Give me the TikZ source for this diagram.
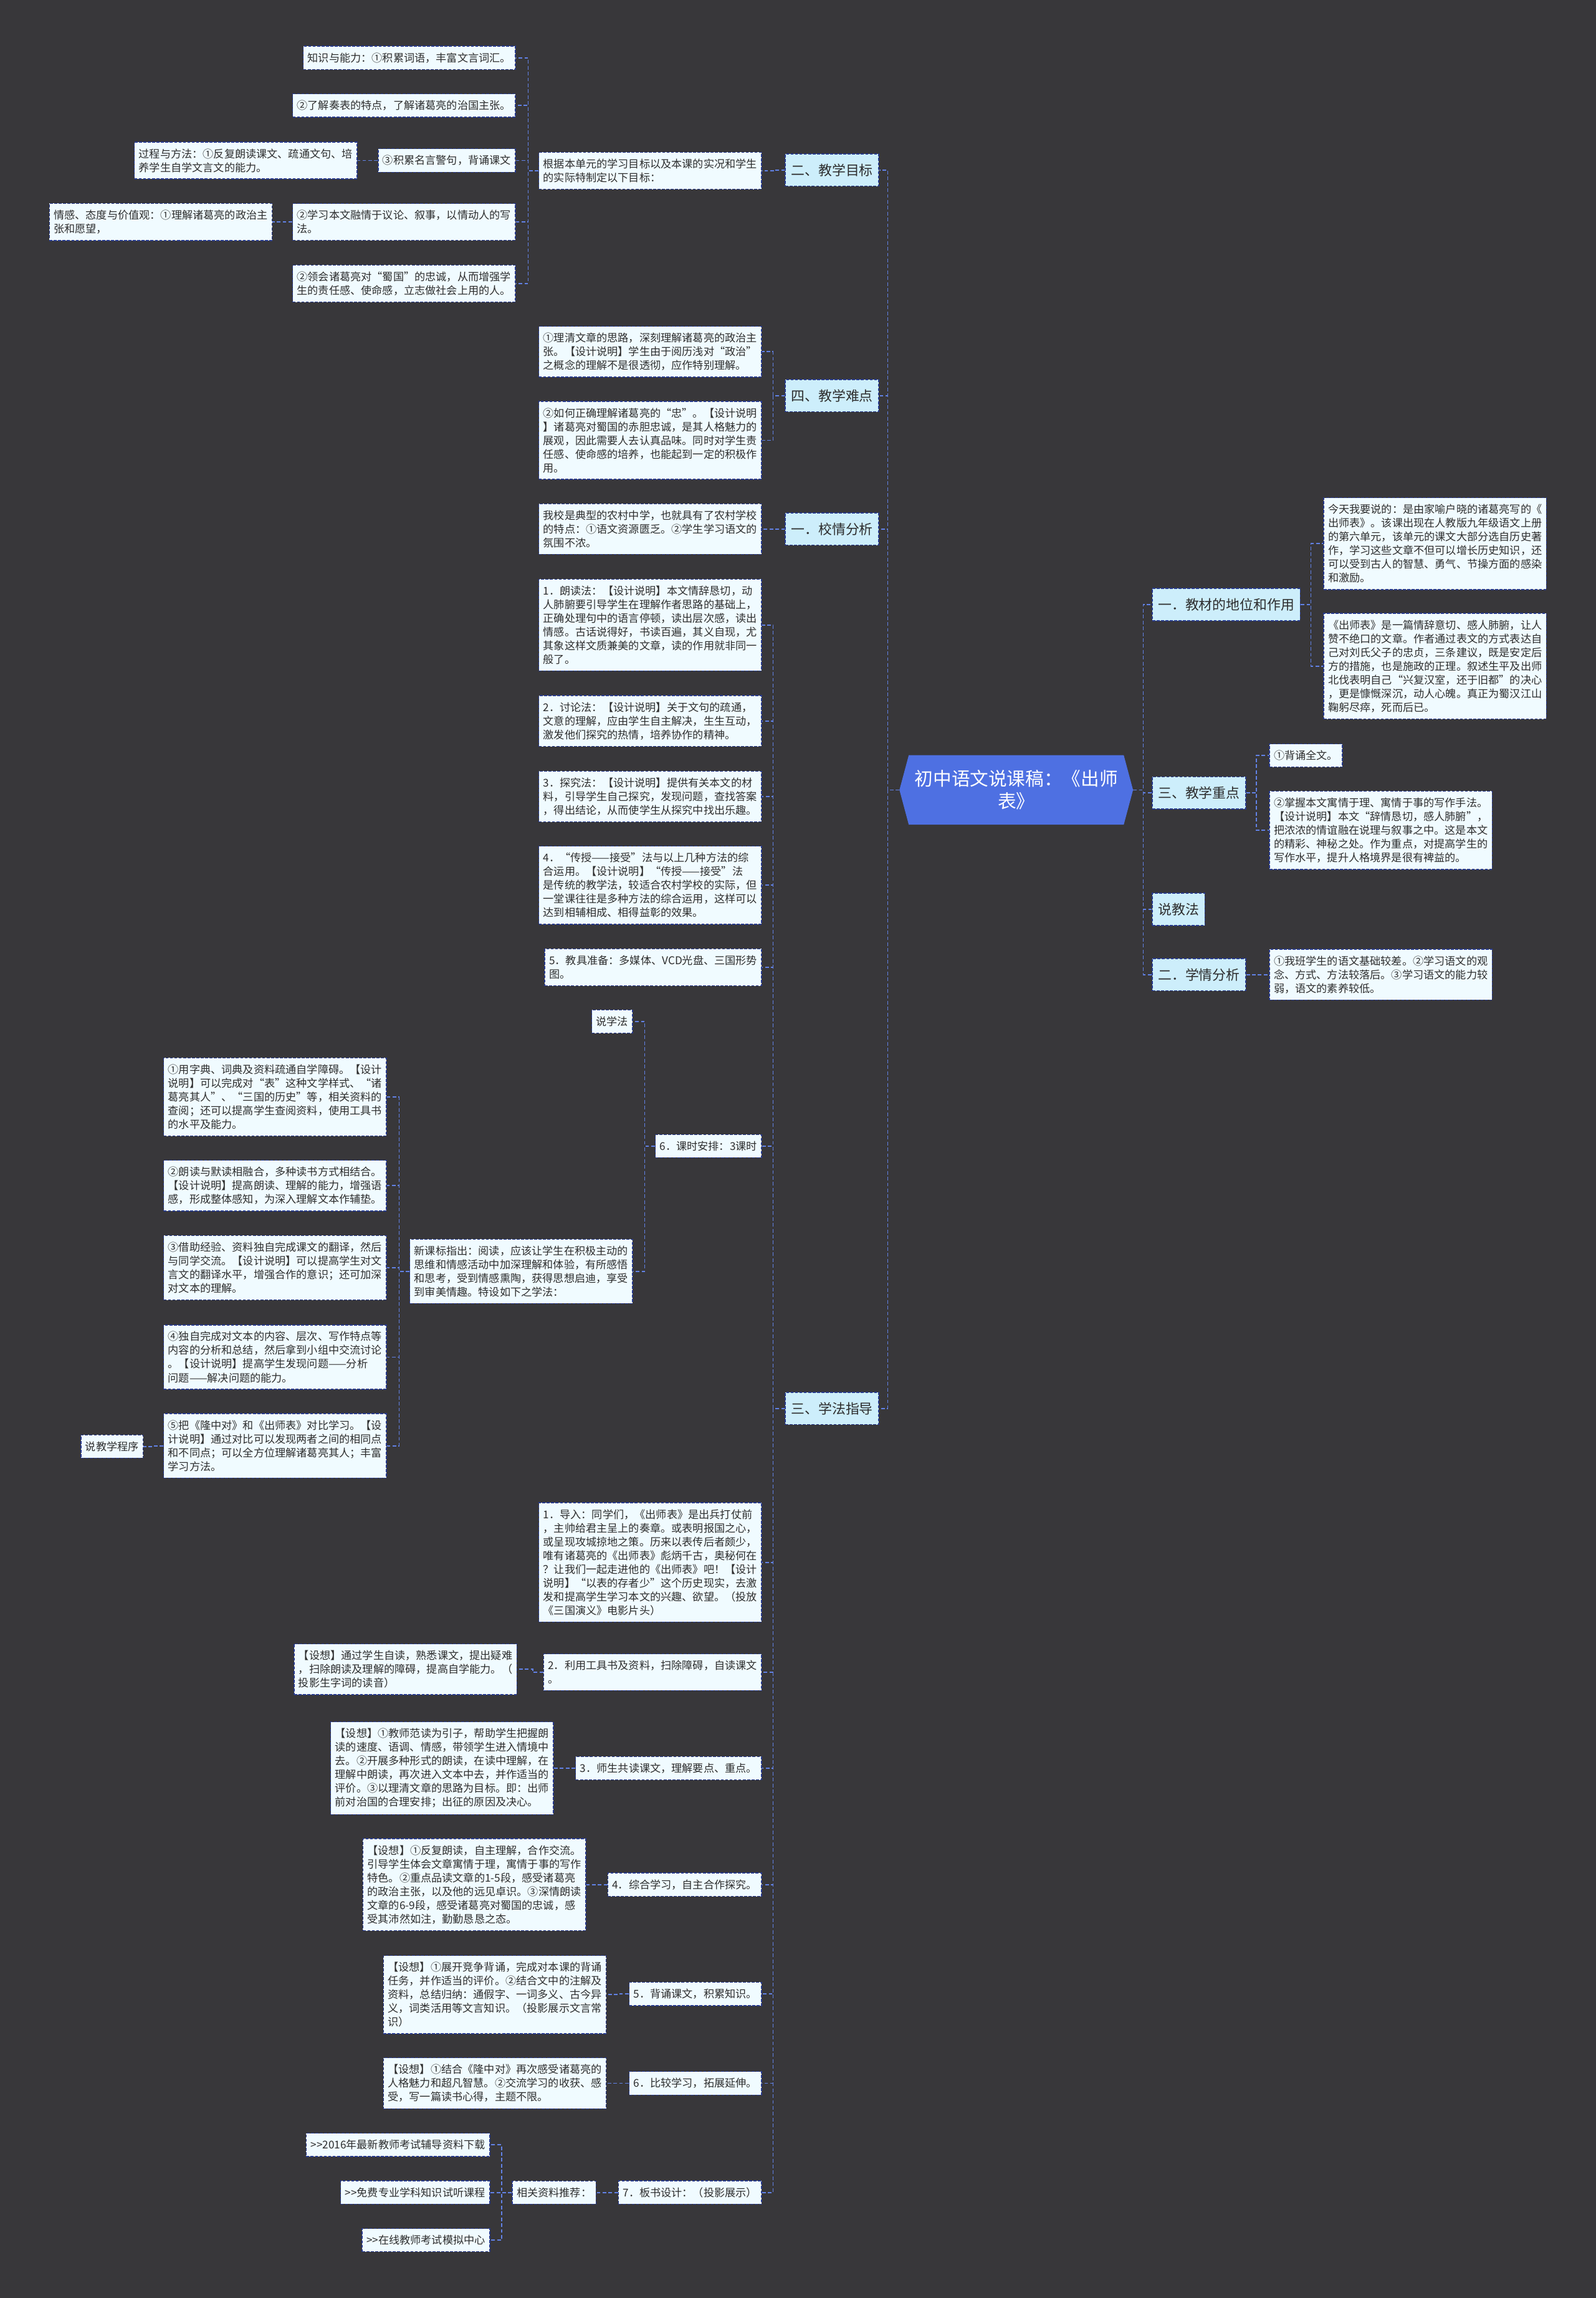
\documentclass[tikz,border=0pt]{standalone}
\usepackage{fontspec}
\setmainfont{Noto Sans CJK SC}
\usetikzlibrary{shapes.symbols}

\definecolor{ksBg}{RGB}{56,55,58}
\definecolor{ksRootFill}{RGB}{78,112,226}
\definecolor{ksTopicFill}{RGB}{205,238,251}
\definecolor{ksLeafFill}{RGB}{240,251,255}
\definecolor{ksEdge}{RGB}{40,58,140}
\definecolor{ksLinkCol}{RGB}{98,130,230}
\definecolor{ksText}{RGB}{45,45,45}

\begin{document}
\begin{tikzpicture}[x=1pt,y=-1pt]
\tikzset{
    ksRoot/.style={shape=signal,signal to=west and east,signal pointer angle=150,fill=ksRootFill,draw=ksRootFill,text=white,minimum width=159pt,minimum height=47pt,align=center,inner sep=2pt,font=\fontsize{12.6}{15.3}\selectfont},
    ksTopic/.style={rectangle,draw=ksEdge,dash pattern=on 2pt off 1pt,line width=0.6pt,fill=ksTopicFill,text=ksText,minimum height=22pt,inner xsep=4pt,font=\fontsize{9.3}{11}\selectfont},
    ksLeaf/.style={rectangle,draw=ksEdge,dash pattern=on 2pt off 1pt,line width=0.6pt,fill=ksLeafFill,text=ksText,align=left,inner xsep=3pt,inner ysep=4.5pt,font=\fontsize{7.3}{9.36}\selectfont},
    ksLink/.style={draw=ksLinkCol,dash pattern=on 2.5pt off 1.5pt,line width=0.75pt},
}
\fill[ksBg] (0,0) rectangle (1089,1568);
\useasboundingbox (0,0) rectangle (1089,1568);

% root
\node[ksRoot] (root) at (693.5,539) {初中语文说课稿：《出师\\表》};

% right branches
\node[ksTopic,anchor=west] (jc) at (786,412.5) {一．教材的地位和作用};
\node[ksTopic,anchor=west] (zd) at (786,541) {三、教学重点};
\node[ksTopic,anchor=west] (sjf) at (786,620.5) {说教法};
\node[ksTopic,anchor=west] (xqf) at (786,665) {二．学情分析};

\node[ksLeaf,anchor=west] (jc1) at (903,371) {今天我要说的：是由家喻户晓的诸葛亮写的《\\出师表》。该课出现在人教版九年级语文上册\\的第六单元，该单元的课文大部分选自历史著\\作，学习这些文章不但可以增长历史知识，还\\可以受到古人的智慧、勇气、节操方面的感染\\和激励。};
\node[ksLeaf,anchor=west] (jc2) at (903,454.5) {《出师表》是一篇情辞意切、感人肺腑，让人\\赞不绝口的文章。作者通过表文的方式表达自\\己对刘氏父子的忠贞，三条建议，既是安定后\\方的措施，也是施政的正理。叙述生平及出师\\北伐表明自己“兴复汉室，还于旧都”的决心\\，更是慷慨深沉，动人心魄。真正为蜀汉江山\\鞠躬尽瘁，死而后已。};
\node[ksLeaf,anchor=west] (zd1) at (866,515.5) {①背诵全文。};
\node[ksLeaf,anchor=west] (zd2) at (866,566.5) {②掌握本文寓情于理、寓情于事的写作手法。\\【设计说明】本文“辞情恳切，感人肺腑”，\\把浓浓的情谊融在说理与叙事之中。这是本文\\的精彩、神秘之处。作为重点，对提高学生的\\写作水平，提升人格境界是很有裨益的。};
\node[ksLeaf,anchor=west] (xqf1) at (866,665) {①我班学生的语文基础较差。②学习语文的观\\念、方式、方法较落后。③学习语文的能力较\\弱，语文的素养较低。};

% left branches
\node[ksTopic,anchor=east] (mb) at (600,116) {二、教学目标};
\node[ksTopic,anchor=east] (nd) at (600,270) {四、教学难点};
\node[ksTopic,anchor=east] (xq) at (600,361) {一．校情分析};
\node[ksTopic,anchor=east] (xf) at (600,961) {三、学法指导};

% teaching goals
\node[ksLeaf,anchor=east] (mb0) at (520,116.5) {根据本单元的学习目标以及本课的实况和学生\\的实际特制定以下目标：};
\node[ksLeaf,anchor=east] (mb1) at (352,39.5) {知识与能力：①积累词语，丰富文言词汇。};
\node[ksLeaf,anchor=east] (mb2) at (352,72) {②了解奏表的特点，了解诸葛亮的治国主张。};
\node[ksLeaf,anchor=east] (mb3) at (352,109.5) {③积累名言警句，背诵课文};
\node[ksLeaf,anchor=east] (mb3a) at (244,109.5) {过程与方法：①反复朗读课文、疏通文句、培\\养学生自学文言文的能力。};
\node[ksLeaf,anchor=east] (mb4) at (352,151.5) {②学习本文融情于议论、叙事，以情动人的写\\法。};
\node[ksLeaf,anchor=east] (mb4a) at (186,151.5) {情感、态度与价值观：①理解诸葛亮的政治主\\张和愿望，};
\node[ksLeaf,anchor=east] (mb5) at (352,193.5) {②领会诸葛亮对“蜀国”的忠诚，从而增强学\\生的责任感、使命感，立志做社会上用的人。};

% difficulties and school
\node[ksLeaf,anchor=east] (nd1) at (520,240) {①理清文章的思路，深刻理解诸葛亮的政治主\\张。【设计说明】学生由于阅历浅对“政治”\\之概念的理解不是很透彻，应作特别理解。};
\node[ksLeaf,anchor=east] (nd2) at (520,300.5) {②如何正确理解诸葛亮的“忠”。【设计说明\\】诸葛亮对蜀国的赤胆忠诚，是其人格魅力的\\展观，因此需要人去认真品味。同时对学生责\\任感、使命感的培养，也能起到一定的积极作\\用。};
\node[ksLeaf,anchor=east] (xq1) at (520,361) {我校是典型的农村中学，也就具有了农村学校\\的特点：①语文资源匮乏。②学生学习语文的\\氛围不浓。};

% study methods
\node[ksLeaf,anchor=east] (fa1) at (520,426.5) {1．朗读法：【设计说明】本文情辞恳切，动\\人肺腑要引导学生在理解作者思路的基础上，\\正确处理句中的语言停顿，读出层次感，读出\\情感。古话说得好，书读百遍，其义自现，尤\\其象这样文质兼美的文章，读的作用就非同一\\般了。};
\node[ksLeaf,anchor=east] (fa2) at (520,492) {2．讨论法：【设计说明】关于文句的疏通，\\文意的理解，应由学生自主解决，生生互动，\\激发他们探究的热情，培养协作的精神。};
\node[ksLeaf,anchor=east] (fa3) at (520,543.5) {3．探究法：【设计说明】提供有关本文的材\\料，引导学生自己探究，发现问题，查找答案\\，得出结论，从而使学生从探究中找出乐趣。};
\node[ksLeaf,anchor=east] (fa4) at (520,604) {4．“传授——接受”法与以上几种方法的综\\合运用。【设计说明】“传授——接受”法\\是传统的教学法，较适合农村学校的实际，但\\一堂课往往是多种方法的综合运用，这样可以\\达到相辅相成、相得益彰的效果。};
\node[ksLeaf,anchor=east] (fa5) at (520,660) {5．教具准备：多媒体、VCD光盘、三国形势\\图。};
\node[ksLeaf,anchor=east] (fa6) at (520,782) {6．课时安排：3课时};
\node[ksLeaf,anchor=east] (sxf) at (432,697) {说学法};
\node[ksLeaf,anchor=east] (xkb) at (432,867.5) {新课标指出：阅读，应该让学生在积极主动的\\思维和情感活动中加深理解和体验，有所感悟\\和思考，受到情感熏陶，获得思想启迪，享受\\到审美情趣。特设如下之学法：};
\node[ksLeaf,anchor=east] (ff1) at (264,748.5) {①用字典、词典及资料疏通自学障碍。【设计\\说明】可以完成对“表”这种文学样式、“诸\\葛亮其人”、“三国的历史”等，相关资料的\\查阅；还可以提高学生查阅资料，使用工具书\\的水平及能力。};
\node[ksLeaf,anchor=east] (ff2) at (264,809) {②朗读与默读相融合，多种读书方式相结合。\\【设计说明】提高朗读、理解的能力，增强语\\感，形成整体感知，为深入理解文本作辅垫。};
\node[ksLeaf,anchor=east] (ff3) at (264,865) {③借助经验、资料独自完成课文的翻译，然后\\与同学交流。【设计说明】可以提高学生对文\\言文的翻译水平，增强合作的意识；还可加深\\对文本的理解。};
\node[ksLeaf,anchor=east] (ff4) at (264,926) {④独自完成对文本的内容、层次、写作特点等\\内容的分析和总结，然后拿到小组中交流讨论\\。【设计说明】提高学生发现问题——分析\\问题——解决问题的能力。};
\node[ksLeaf,anchor=east] (ff5) at (264,986.5) {⑤把《隆中对》和《出师表》对比学习。【设\\计说明】通过对比可以发现两者之间的相同点\\和不同点；可以全方位理解诸葛亮其人；丰富\\学习方法。};
\node[ksLeaf,anchor=east] (sjx) at (98,987) {说教学程序};

% teaching steps
\node[ksLeaf,anchor=east] (cx1) at (520,1066) {1．导入：同学们，《出师表》是出兵打仗前\\，主帅给君主呈上的奏章。或表明报国之心，\\或呈现攻城掠地之策。历来以表传后者颇少，\\唯有诸葛亮的《出师表》彪炳千古，奥秘何在\\？让我们一起走进他的《出师表》吧！【设计\\说明】“以表的存者少”这个历史现实，去激\\发和提高学生学习本文的兴趣、欲望。（投放\\《三国演义》电影片头）};
\node[ksLeaf,anchor=east] (cx2) at (520,1141) {2．利用工具书及资料，扫除障碍，自读课文\\。};
\node[ksLeaf,anchor=east] (cx2a) at (353,1139) {【设想】通过学生自读，熟悉课文，提出疑难\\，扫除朗读及理解的障碍，提高自学能力。（\\投影生字词的读音）};
\node[ksLeaf,anchor=east] (cx3) at (520,1206.5) {3．师生共读课文，理解要点、重点。};
\node[ksLeaf,anchor=east] (cx3a) at (378,1206.5) {【设想】①教师范读为引子，帮助学生把握朗\\读的速度、语调、情感，带领学生进入情境中\\去。②开展多种形式的朗读，在读中理解，在\\理解中朗读，再次进入文本中去，并作适当的\\评价。③以理清文章的思路为目标。即：出师\\前对治国的合理安排；出征的原因及决心。};
\node[ksLeaf,anchor=east] (cx4) at (520,1286) {4．综合学习，自主合作探究。};
\node[ksLeaf,anchor=east] (cx4a) at (400,1286) {【设想】①反复朗读，自主理解，合作交流。\\引导学生体会文章寓情于理，寓情于事的写作\\特色。②重点品读文章的1-5段，感受诸葛亮\\的政治主张，以及他的远见卓识。③深情朗读\\文章的6-9段，感受诸葛亮对蜀国的忠诚，感\\受其沛然如注，勤勤恳恳之态。};
\node[ksLeaf,anchor=east] (cx5) at (520,1360.5) {5．背诵课文，积累知识。};
\node[ksLeaf,anchor=east] (cx5a) at (414,1361) {【设想】①展开竞争背诵，完成对本课的背诵\\任务，并作适当的评价。②结合文中的注解及\\资料，总结归纳：通假字、一词多义、古今异\\义，词类活用等文言知识。（投影展示文言常\\识）};
\node[ksLeaf,anchor=east] (cx6) at (520,1421.5) {6．比较学习，拓展延伸。};
\node[ksLeaf,anchor=east] (cx6a) at (414,1421.5) {【设想】①结合《隆中对》再次感受诸葛亮的\\人格魅力和超凡智慧。②交流学习的收获、感\\受，写一篇读书心得，主题不限。};
\node[ksLeaf,anchor=east] (cx7) at (520,1496) {7．板书设计：（投影展示）};
\node[ksLeaf,anchor=east] (zl) at (407,1496) {相关资料推荐：};
\node[ksLeaf,anchor=east] (lk1) at (334.5,1463.5) {>\kern0pt>2016年最新教师考试辅导资料下载};
\node[ksLeaf,anchor=east] (lk2) at (334.5,1496) {>\kern0pt>免费专业学科知识试听课程};
\node[ksLeaf,anchor=east] (lk3) at (334.5,1528.5) {>\kern0pt>在线教师考试模拟中心};

% connectors
\draw[ksLink] (root.east) -- ++(7,0) |- (jc.west);
\draw[ksLink] (root.east) -- ++(7,0) |- (zd.west);
\draw[ksLink] (root.east) -- ++(7,0) |- (sjf.west);
\draw[ksLink] (root.east) -- ++(7,0) |- (xqf.west);
\draw[ksLink] (jc.east) -- ++(7,0) |- (jc1.west);
\draw[ksLink] (jc.east) -- ++(7,0) |- (jc2.west);
\draw[ksLink] (zd.east) -- ++(7,0) |- (zd1.west);
\draw[ksLink] (zd.east) -- ++(7,0) |- (zd2.west);
\draw[ksLink] (xqf.east) -- ++(7,0) |- (xqf1.west);

\draw[ksLink] (root.west) -- ++(-8,0) |- (mb.east);
\draw[ksLink] (root.west) -- ++(-8,0) |- (nd.east);
\draw[ksLink] (root.west) -- ++(-8,0) |- (xq.east);
\draw[ksLink] (root.west) -- ++(-8,0) |- (xf.east);

\draw[ksLink] (mb.west) -- ++(-7,0) |- (mb0.east);
\draw[ksLink] (mb0.west) -- ++(-7,0) |- (mb1.east);
\draw[ksLink] (mb0.west) -- ++(-7,0) |- (mb2.east);
\draw[ksLink] (mb0.west) -- ++(-7,0) |- (mb3.east);
\draw[ksLink] (mb0.west) -- ++(-7,0) |- (mb4.east);
\draw[ksLink] (mb0.west) -- ++(-7,0) |- (mb5.east);
\draw[ksLink] (mb3.west) -- ++(-6,0) |- (mb3a.east);
\draw[ksLink] (mb4.west) -- ++(-7,0) |- (mb4a.east);

\draw[ksLink] (nd.west) -- ++(-8,0) |- (nd1.east);
\draw[ksLink] (nd.west) -- ++(-8,0) |- (nd2.east);
\draw[ksLink] (xq.west) -- ++(-8,0) |- (xq1.east);

\draw[ksLink] (xf.west) -- ++(-8,0) |- (fa1.east);
\draw[ksLink] (xf.west) -- ++(-8,0) |- (fa2.east);
\draw[ksLink] (xf.west) -- ++(-8,0) |- (fa3.east);
\draw[ksLink] (xf.west) -- ++(-8,0) |- (fa4.east);
\draw[ksLink] (xf.west) -- ++(-8,0) |- (fa5.east);
\draw[ksLink] (xf.west) -- ++(-8,0) |- (fa6.east);
\draw[ksLink] (xf.west) -- ++(-8,0) |- (cx1.east);
\draw[ksLink] (xf.west) -- ++(-8,0) |- (cx2.east);
\draw[ksLink] (xf.west) -- ++(-8,0) |- (cx3.east);
\draw[ksLink] (xf.west) -- ++(-8,0) |- (cx4.east);
\draw[ksLink] (xf.west) -- ++(-8,0) |- (cx5.east);
\draw[ksLink] (xf.west) -- ++(-8,0) |- (cx6.east);
\draw[ksLink] (xf.west) -- ++(-8,0) |- (cx7.east);

\draw[ksLink] (fa6.west) -- ++(-7,0) |- (sxf.east);
\draw[ksLink] (fa6.west) -- ++(-7,0) |- (xkb.east);
\draw[ksLink] (xkb.west) -- ++(-7,0) |- (ff1.east);
\draw[ksLink] (xkb.west) -- ++(-7,0) |- (ff2.east);
\draw[ksLink] (xkb.west) -- ++(-7,0) |- (ff3.east);
\draw[ksLink] (xkb.west) -- ++(-7,0) |- (ff4.east);
\draw[ksLink] (xkb.west) -- ++(-7,0) |- (ff5.east);
\draw[ksLink] (ff5.west) -- ++(-6,0) |- (sjx.east);

\draw[ksLink] (cx2.west) -- ++(-7,0) |- (cx2a.east);
\draw[ksLink] (cx3.west) -- ++(-6,0) |- (cx3a.east);
\draw[ksLink] (cx4.west) -- ++(-6,0) |- (cx4a.east);
\draw[ksLink] (cx5.west) -- ++(-7,0) |- (cx5a.east);
\draw[ksLink] (cx6.west) -- ++(-7,0) |- (cx6a.east);
\draw[ksLink] (cx7.west) -- ++(-7,0) |- (zl.east);
\draw[ksLink] (zl.west) -- ++(-7,0) |- (lk1.east);
\draw[ksLink] (zl.west) -- ++(-7,0) |- (lk2.east);
\draw[ksLink] (zl.west) -- ++(-7,0) |- (lk3.east);
\end{tikzpicture}
\end{document}
